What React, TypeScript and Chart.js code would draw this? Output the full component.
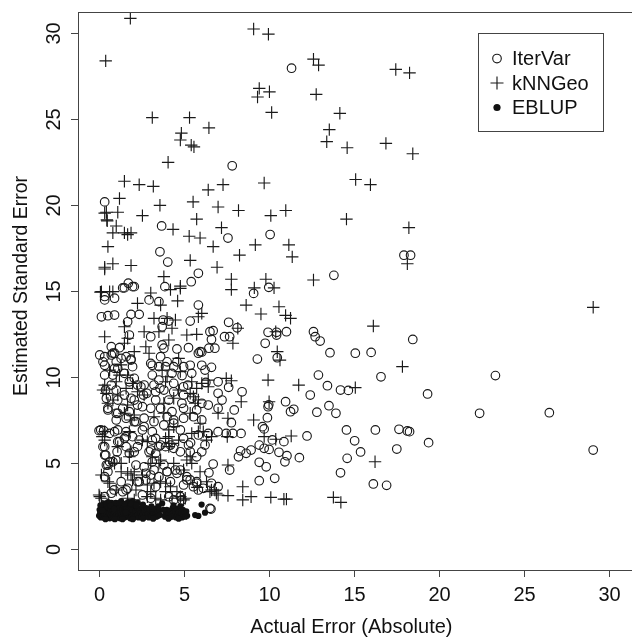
import React, { useEffect, useRef } from "react";
import { Chart, registerables } from "chart.js";

Chart.register(...registerables);

const seriesLabels = ["IterVar", "kNNGeo", "EBLUP"];
const xTickValues = [0, 5, 10, 15, 20, 25, 30];
const xTickLabels = ["0", "5", "10", "15", "20", "25", "30"];
const yTickValues = [0, 5, 10, 15, 20, 25, 30];
const yTickLabels = ["0", "5", "10", "15", "20", "25", "30"];
const xAxisTitle = "Actual Error (Absolute)";
const yAxisTitle = "Estimated Standard Error";

const iterVarPoints: number[][] = [
  [11.34, 27.97], [7.85, 22.3], [0.35, 20.2], [3.7, 18.8], [10.08, 18.3], [7.6, 18.1], [3.6, 17.3], [4.06, 16.7],
  [5.86, 16.05], [5.44, 15.56], [3.89, 15.27], [1.74, 15.47], [1.41, 15.2], [1.99, 15.27], [9.11, 14.88], [10.0, 15.23],
  [0.35, 14.7], [17.95, 17.1], [18.34, 17.1], [13.83, 15.93],
  [12.63, 12.65], [12.73, 12.36], [13.02, 12.11], [13.6, 11.43], [15.09, 11.4], [16.02, 11.45], [18.47, 12.2],
  [12.92, 10.13], [13.45, 9.51], [14.22, 9.26], [14.68, 9.24], [16.6, 10.03], [23.33, 10.1], [19.34, 9.03],
  [12.44, 8.97], [13.54, 8.35], [12.83, 7.97], [13.95, 7.91], [22.4, 7.91], [26.5, 7.94], [12.25, 6.59],
  [14.57, 6.94], [16.27, 6.94], [17.66, 6.98], [18.15, 6.88], [18.28, 6.84], [19.4, 6.2], [15.05, 6.31],
  [15.4, 5.66], [17.53, 5.83], [29.08, 5.77], [14.61, 5.29], [14.22, 4.45], [16.15, 3.8], [16.93, 3.72],
  [7.64, 13.2], [7.7, 12.36], [7.4, 12.36], [8.14, 12.88], [6.73, 12.71], [6.63, 12.2], [6.48, 11.69], [6.83, 11.69],
  [6.06, 11.47], [5.86, 14.2], [9.79, 11.98], [9.96, 12.62], [10.46, 12.62], [11.04, 12.65], [10.46, 12.46],
  [9.33, 11.06], [10.5, 11.14], [6.63, 10.58], [7.02, 9.74], [7.64, 9.42], [8.43, 9.16], [7.02, 9.07], [7.25, 8.68],
  [7.02, 8.2], [7.97, 8.1], [9.96, 8.29], [10.0, 8.4], [10.99, 8.58], [11.28, 8.0], [11.47, 8.14], [9.92, 7.65],
  [9.63, 7.13], [9.73, 7.0], [7.8, 7.36], [8.37, 6.74], [7.89, 6.74], [7.02, 6.84], [10.21, 6.36], [10.89, 6.26],
  [9.44, 6.06], [9.73, 5.87], [10.02, 5.81], [10.6, 5.64], [10.95, 5.09], [11.07, 5.44], [11.8, 5.33], [8.34, 5.73],
  [8.67, 5.58], [8.96, 5.77], [8.22, 5.38], [9.44, 5.06], [9.85, 4.8], [9.44, 3.99], [10.35, 4.13], [7.7, 4.61],
  [6.73, 4.96], [6.48, 4.45], [6.63, 3.84], [7.02, 3.64], [6.6, 2.34], [6.3, 9.7], [6.06, 8.49], [7.5, 6.74], [6.44, 6.74],
  [0.35, 14.5], [0.93, 14.6], [1.51, 15.2], [2.09, 15.27], [2.96, 14.5], [3.54, 14.4], [0.16, 13.52], [0.54, 13.58],
  [0.93, 13.62], [1.9, 13.66], [2.38, 13.66], [1.7, 13.23], [3.79, 13.33], [4.12, 13.27], [3.73, 12.94], [5.38, 13.27],
  [1.8, 12.46], [3.06, 12.36], [3.73, 11.88], [3.83, 11.69], [4.6, 11.65], [5.28, 11.72], [5.96, 11.49], [6.54, 12.65],
  [0.74, 11.78], [1.22, 11.72], [0.35, 11.2], [0.74, 11.3], [0.93, 11.4], [1.32, 11.1], [1.61, 11.2], [1.03, 10.9],
  [1.9, 11.06], [0.35, 10.7], [1.12, 10.52], [3.15, 10.7], [3.54, 10.62], [3.93, 10.62], [4.41, 10.62], [5.38, 10.7],
  [6.06, 10.7], [3.15, 10.13], [3.54, 9.84], [4.31, 10.23], [4.9, 10.1], [5.47, 10.23], [3.25, 9.55], [3.6, 9.36],
  [4.41, 9.65], [4.99, 9.45], [5.24, 9.55], [1.8, 9.74], [0.74, 9.55], [1.03, 9.26], [2.28, 9.55], [2.48, 9.45],
  [0.45, 8.78], [1.12, 8.68], [1.9, 8.78], [2.63, 8.97], [2.83, 9.07], [3.35, 9.16], [3.83, 9.26], [4.41, 9.16],
  [4.99, 8.97], [3.35, 8.68], [4.12, 8.68], [5.47, 8.78], [4.89, 8.49], [2.57, 8.29], [0.54, 8.1], [1.41, 8.2],
  [1.8, 8.0], [1.12, 7.91], [4.31, 8.0], [4.99, 8.2], [5.76, 8.1], [6.44, 8.39], [1.03, 7.52], [1.61, 7.62],
  [2.67, 7.62], [4.41, 7.52], [4.99, 7.62],
  [0.12, 6.94], [0.64, 6.74], [1.12, 6.94], [1.61, 6.84], [1.99, 6.55], [2.38, 6.35], [3.15, 6.84], [3.83, 7.23],
  [4.41, 7.33], [4.8, 6.94], [5.86, 6.65], [0.35, 5.97], [0.35, 5.48], [1.12, 6.26], [1.08, 5.67], [1.61, 5.97],
  [1.8, 5.58], [2.09, 5.67], [2.96, 5.67], [3.35, 5.58], [3.64, 6.06], [3.93, 5.97], [4.22, 6.06], [4.41, 5.87],
  [4.8, 5.67], [5.38, 5.67], [5.76, 5.38], [6.06, 5.67], [0.54, 4.9], [0.54, 4.51], [1.32, 3.93], [3.25, 4.61],
  [3.06, 4.32], [2.77, 4.03], [2.28, 3.93], [4.02, 4.51], [4.6, 4.42], [4.8, 4.61], [5.18, 4.22], [5.38, 4.03],
  [5.76, 3.93], [4.41, 2.87], [6.54, 2.38], [5.86, 3.45], [6.15, 3.55], [4.12, 3.06], [0.74, 3.26], [1.7, 3.55],
  [2.57, 3.16], [3.15, 5.09], [3.83, 4.9], [2.19, 4.9],
  [0.02, 6.9], [0.29, 6.9], [0.25, 5.97], [0.41, 5.48], [0.45, 4.9], [0.35, 4.22], [0.64, 5.09],
  [0.83, 11.4], [0.25, 10.9], [0.93, 10.52], [1.51, 10.23], [1.9, 11.0], [0.4, 9.26], [0.54, 8.2], [1.03, 7.91],
  [0.93, 6.84], [1.22, 6.26], [1.61, 6.55], [2.19, 7.42], [2.57, 6.94], [3.15, 6.35], [2.28, 5.97], [3.06, 5.77],
  [3.54, 5.97], [4.02, 4.51], [4.51, 4.61], [5.18, 4.03], [5.76, 3.84], [2.77, 4.42], [2.38, 3.93], [3.35, 3.64],
  [1.61, 3.45], [0.9, 3.45], [4.89, 2.87],
  [0.06, 11.3], [0.35, 10.13], [0.83, 10.13], [1.99, 10.62], [2.09, 9.94], [3.06, 10.81], [2.67, 9.55], [3.64, 11.2],
  [4.02, 10.9], [4.6, 10.9], [4.99, 10.62], [5.86, 11.4], [6.25, 10.42], [1.51, 8.97], [2.09, 8.68], [2.28, 8.39],
  [3.06, 8.2], [3.64, 8.2], [4.02, 7.71], [5.57, 7.71], [6.06, 7.52], [2.09, 7.42], [3.25, 7.42],
  [1.51, 6.45], [2.67, 7.13], [3.35, 6.45], [4.99, 6.45], [5.28, 6.06], [5.4, 6.2], [6.25, 6.06], [0.83, 5.09],
  [1.0, 5.2], [2.67, 4.8], [3.54, 4.22], [4.22, 3.93], [4.99, 3.74], [5.57, 3.64], [4.8, 3.06], [3.06, 2.97],
  [1.41, 3.35], [0.35, 3.06],
];

const knnGeoPoints: number[][] = [
  [1.86, 30.87], [0.41, 28.4], [3.15, 25.1], [5.34, 25.1], [6.48, 24.5], [4.86, 24.2], [4.8, 23.8], [5.44, 23.5],
  [5.6, 23.4], [4.08, 22.5], [9.11, 30.25], [9.98, 29.95], [9.44, 26.8], [9.34, 26.3], [10.04, 26.6], [10.17, 25.4],
  [12.63, 28.5], [12.93, 28.15], [12.79, 26.45], [1.51, 21.4], [2.38, 21.2], [3.21, 21.1], [1.22, 20.4], [0.35, 19.55],
  [0.48, 19.15], [1.12, 19.6], [2.57, 19.4], [3.6, 20.0], [5.55, 20.2], [5.76, 19.2], [6.44, 20.9], [7.31, 21.2],
  [7.02, 19.9], [8.22, 19.7], [9.73, 21.3], [10.12, 19.4], [11.0, 19.7], [1.03, 18.8], [0.83, 18.4], [1.51, 18.4],
  [1.9, 18.4], [0.54, 17.6], [4.37, 18.6], [5.32, 18.2], [5.96, 18.1], [7.22, 18.7], [6.73, 17.6], [8.28, 17.1],
  [9.21, 17.7], [11.18, 17.7], [11.38, 17.0], [5.38, 16.8], [0.35, 16.3], [0.83, 16.6], [1.9, 16.5], [6.96, 16.4],
  [3.83, 15.85], [7.8, 15.7], [9.83, 15.7], [12.63, 15.66], [0.1, 14.95], [0.83, 14.98], [4.22, 15.1], [4.8, 15.3],
  [7.8, 15.1], [9.15, 15.2], [10.31, 15.2], [3.06, 14.9],
  [17.47, 27.9], [18.28, 27.7], [14.18, 25.35], [13.56, 24.4], [13.41, 23.7], [14.61, 23.35], [16.89, 23.6],
  [18.47, 23.0], [15.11, 21.5], [15.98, 21.2], [14.57, 19.2], [18.24, 18.7], [18.15, 16.6],
  [29.08, 14.07], [16.15, 12.98], [17.86, 10.62], [15.09, 9.4], [16.25, 5.09], [13.8, 3.02], [14.24, 2.73],
  [8.67, 14.2], [9.54, 13.68], [10.6, 14.1], [11.28, 13.43], [10.99, 13.6], [8.18, 12.85], [7.89, 11.98],
  [10.5, 11.49], [10.66, 11.0], [9.96, 9.84], [11.76, 9.55], [7.5, 9.94], [7.8, 9.8], [8.38, 8.58], [10.02, 8.58],
  [7.02, 7.91], [7.6, 7.62], [9.11, 7.52], [7.56, 6.55], [6.63, 6.55], [9.73, 6.55], [11.32, 6.59], [10.41, 6.4],
  [7.6, 4.9], [8.47, 3.64], [7.02, 3.16], [7.6, 3.12], [8.47, 2.87], [8.96, 3.06], [10.12, 3.02], [10.89, 2.92],
  [11.04, 2.92], [6.83, 3.45], [5.8, 3.6], [6.06, 13.72], [10.41, 12.65], [6.06, 9.65], [6.44, 9.45], [5.96, 7.33],
  [5.86, 6.84], [6.34, 3.93], [6.63, 3.45], [6.92, 3.26], [1.7, 18.3], [0.45, 19.6], [0.5, 19.1], [0.35, 16.4],
  [0.16, 14.98], [0.64, 14.98], [4.8, 15.17], [2.28, 14.3], [4.64, 14.44], [3.25, 13.43], [4.02, 13.43], [4.51, 13.33],
  [5.86, 13.52], [1.51, 12.94], [2.67, 12.65], [3.54, 12.65], [0.35, 12.36], [1.7, 12.27], [5.76, 12.5], [2.77, 11.78],
  [2.96, 11.4], [1.51, 11.98], [4.7, 11.1], [1.32, 10.72], [0.64, 10.42], [1.7, 10.13], [3.73, 10.42], [4.8, 10.33],
  [0.35, 9.55], [1.99, 9.65], [1.61, 9.36], [4.02, 10.03], [5.76, 9.36], [6.44, 9.84], [0.45, 9.07], [2.28, 9.16],
  [1.12, 8.97], [4.7, 9.26], [5.38, 9.07], [5.57, 8.87], [0.54, 8.49], [1.7, 8.39], [2.67, 8.97], [3.83, 8.49],
  [5.67, 8.49], [1.51, 7.91], [3.83, 7.91], [5.38, 7.91],
  [0.35, 6.84], [0.35, 6.35], [1.8, 6.84], [2.57, 6.35], [4.12, 6.55], [5.47, 6.74], [6.15, 6.84], [1.9, 5.67],
  [4.12, 5.97], [5.38, 5.38], [1.32, 4.51], [1.7, 4.42], [2.09, 4.51], [3.25, 3.84], [3.64, 3.93], [3.93, 3.84],
  [4.22, 3.64], [0.54, 3.93], [0.16, 2.97], [1.7, 2.97], [2.09, 2.87], [2.86, 3.06], [4.6, 3.35], [4.99, 2.87],
  [6.54, 3.35],
  [0.25, 9.26], [0.83, 8.68], [0.21, 6.55], [0.16, 4.32], [0.06, 3.06], [0.64, 3.84], [1.99, 4.03], [2.19, 3.45],
  [2.86, 3.74], [3.35, 2.97], [4.31, 2.97], [4.8, 3.06], [5.09, 2.97], [5.18, 5.19], [5.47, 5.0], [4.7, 6.35],
  [3.93, 6.45], [4.12, 6.94], [1.12, 5.97], [1.8, 5.38], [1.9, 4.32], [2.57, 4.32], [3.54, 5.0], [5.96, 4.51],
  [6.34, 6.35], [1.9, 7.52], [5.86, 8.68], [4.41, 7.13], [4.31, 6.16], [3.15, 5.38], [2.86, 6.26],
  [1.22, 10.13], [1.03, 9.74], [3.64, 14.2], [4.31, 12.85], [5.18, 12.46], [4.12, 12.17], [2.09, 11.49], [3.93, 9.74],
  [5.47, 9.74], [4.41, 8.78], [2.09, 7.81], [3.25, 7.71],
  [0.93, 5.0], [1.32, 5.0], [3.06, 5.0], [3.64, 5.19], [4.41, 5.0], [4.99, 4.61], [3.93, 3.35], [3.06, 3.35],
  [1.03, 3.45], [0.02, 3.16], [3.64, 2.87],
];

const eblupPoints: number[][] = [
  [0.02, 1.95], [0.05, 2.3], [0.08, 2.1], [0.12, 1.85], [0.15, 2.5], [0.18, 2.0], [0.22, 2.2], [0.25, 1.9],
  [0.28, 2.4], [0.31, 2.05], [0.35, 1.8], [0.38, 2.3], [0.42, 2.6], [0.45, 2.0], [0.48, 1.85], [0.52, 2.2],
  [0.55, 2.45], [0.58, 1.95], [0.62, 2.1], [0.65, 1.8], [0.68, 2.35], [0.72, 2.0], [0.75, 2.7], [0.78, 1.9],
  [0.82, 2.25], [0.85, 2.05], [0.88, 1.8], [0.92, 2.5], [0.95, 2.15], [0.98, 1.9], [1.02, 2.3], [1.05, 2.0],
  [1.08, 1.85], [1.12, 2.6], [1.15, 2.2], [1.18, 1.95], [1.22, 2.4], [1.25, 1.8], [1.28, 2.1], [1.32, 2.8],
  [1.35, 2.0], [1.38, 2.3], [1.42, 1.9], [1.45, 2.55], [1.48, 2.1], [1.52, 1.85], [1.55, 2.3], [1.58, 2.0],
  [1.62, 2.45], [1.65, 1.9], [1.68, 2.2], [1.72, 2.75], [1.75, 1.95], [1.78, 2.35], [1.82, 2.05], [1.85, 1.8],
  [1.88, 2.5], [1.92, 2.1], [1.95, 1.9], [1.98, 2.3], [2.02, 2.0], [2.05, 2.6], [2.1, 1.85], [2.15, 2.2],
  [2.2, 1.95], [2.25, 2.4], [2.3, 2.0], [2.35, 1.85], [2.4, 2.3], [2.45, 2.1], [2.5, 1.9], [2.55, 2.5],
  [2.6, 2.05], [2.65, 1.85], [2.7, 2.2], [2.75, 2.0], [2.8, 2.4], [2.85, 1.9], [2.9, 2.1], [2.95, 1.85],
  [3.0, 2.3], [3.05, 2.0], [3.1, 1.9], [3.15, 2.2], [3.2, 2.05], [3.25, 1.85], [3.3, 2.35], [3.35, 2.0],
  [3.4, 1.9], [3.45, 2.15], [3.5, 1.95], [3.55, 2.3], [3.6, 2.0], [3.73, 2.67], [3.9, 1.9], [3.95, 2.1],
  [4.0, 2.3], [4.05, 1.95], [4.1, 2.05], [4.15, 1.85], [4.2, 2.25], [4.25, 2.0], [4.3, 1.9], [4.35, 2.4],
  [4.4, 2.1], [4.45, 1.95], [4.5, 2.2], [4.55, 1.85], [4.6, 2.35], [4.65, 2.0], [4.7, 2.15], [4.75, 1.9],
  [4.8, 2.5], [4.85, 2.05], [4.9, 1.85], [4.95, 2.3], [5.0, 2.0], [5.05, 2.15], [5.1, 1.9], [5.15, 2.2],
  [5.67, 1.99], [5.86, 1.94], [6.05, 2.6], [6.25, 2.13], [0.55, 2.75], [1.0, 2.7], [2.0, 2.8], [2.3, 2.7],
  [1.5, 2.65], [0.3, 2.65], [0.1, 2.55], [0.7, 2.55], [1.2, 2.7], [1.9, 2.65], [2.6, 2.6], [3.1, 2.5],
  [0.4, 1.75], [0.95, 1.75], [1.4, 1.75], [2.0, 1.75], [2.6, 1.78], [3.2, 1.78], [4.1, 1.78], [4.7, 1.78],
  [3.8, 2.3], [5.2, 1.95], [2.2, 2.55], [1.6, 2.15], [0.9, 2.35], [0.2, 2.25], [3.5, 2.5], [4.4, 2.55],
];

const toXY = (pts: number[][]) => pts.map(([x, y]) => ({ x, y }));

const FONT = "'Liberation Sans', Arial, Helvetica, sans-serif";
const INK = "#1a1a1a";

const rAxesPlugin = {
  id: "rAxes",
  afterDraw(chart: any) {
    const { ctx, chartArea } = chart;
    const { left, top, right, bottom } = chartArea;
    const xs = chart.scales.x;
    const ys = chart.scales.y;
    ctx.save();
    ctx.strokeStyle = "#444";
    ctx.lineWidth = 1;
    ctx.strokeRect(left + 0.5, top + 0.5, right - left + 10, bottom - top);
    ctx.fillStyle = "#111";
    ctx.font = `20px ${FONT}`;
    ctx.textAlign = "center";
    ctx.textBaseline = "alphabetic";
    xTickValues.forEach((v, i) => {
      const px = Math.round(xs.getPixelForValue(v)) + 0.5;
      ctx.beginPath();
      ctx.moveTo(px, bottom);
      ctx.lineTo(px, bottom + 7);
      ctx.stroke();
      ctx.fillText(xTickLabels[i], px, 601);
    });
    yTickValues.forEach((v, i) => {
      const py = Math.round(ys.getPixelForValue(v)) + 0.5;
      ctx.beginPath();
      ctx.moveTo(left - 7, py);
      ctx.lineTo(left, py);
      ctx.stroke();
      ctx.save();
      ctx.translate(60, py);
      ctx.rotate(-Math.PI / 2);
      ctx.fillText(yTickLabels[i], 0, 0);
      ctx.restore();
    });
    ctx.fillText(xAxisTitle, (left + right) / 2, 633);
    ctx.save();
    ctx.font = `19.5px ${FONT}`;
    ctx.translate(27, 286);
    ctx.rotate(-Math.PI / 2);
    ctx.fillText(yAxisTitle, 0, 0);
    ctx.restore();

    // legend
    ctx.strokeStyle = "#444";
    ctx.strokeRect(478.5, 33.5, 125, 98);
    const symX = 497;
    const rows = [58.5, 83, 107.5];
    const bases = [65, 89.5, 114];
    ctx.strokeStyle = INK;
    ctx.lineWidth = 1.15;
    ctx.beginPath();
    ctx.arc(symX, rows[0], 4.3, 0, Math.PI * 2);
    ctx.stroke();
    ctx.beginPath();
    ctx.moveTo(symX - 6.5, rows[1]);
    ctx.lineTo(symX + 6.5, rows[1]);
    ctx.moveTo(symX, rows[1] - 6.5);
    ctx.lineTo(symX, rows[1] + 6.5);
    ctx.stroke();
    ctx.fillStyle = "#111";
    ctx.beginPath();
    ctx.arc(symX, rows[2], 3.6, 0, Math.PI * 2);
    ctx.fill();
    ctx.textAlign = "left";
    seriesLabels.forEach((lab, i) => {
      ctx.fillText(lab, 512, bases[i]);
    });
    ctx.restore();
  },
};

export default function App() {
  const canvasRef = useRef<HTMLCanvasElement | null>(null);

  useEffect(() => {
    const canvas = canvasRef.current;
    if (!canvas) return;
    const chart = new Chart(canvas, {
      type: "scatter",
      data: {
        datasets: [
          {
            label: seriesLabels[0],
            data: toXY(iterVarPoints),
            pointStyle: "circle",
            pointRadius: 4.3,
            borderWidth: 1.15,
            borderColor: INK,
            backgroundColor: "rgba(0,0,0,0)",
            order: 2,
          },
          {
            label: seriesLabels[1],
            data: toXY(knnGeoPoints),
            pointStyle: "cross",
            pointRadius: 6.2,
            borderWidth: 1.15,
            borderColor: INK,
            backgroundColor: INK,
            order: 1,
          },
          {
            label: seriesLabels[2],
            data: toXY(eblupPoints),
            pointStyle: "circle",
            pointRadius: 3.1,
            borderWidth: 0,
            borderColor: "#111",
            backgroundColor: "#111",
            order: 0,
          },
        ],
      },
      options: {
        animation: false,
        responsive: false,
        events: [],
        layout: { padding: { top: 12, left: 0, right: 0, bottom: 0 } },
        plugins: { legend: { display: false }, tooltip: { enabled: false }, title: { display: false } },
        scales: {
          x: {
            type: "linear",
            min: -1.219,
            max: 30.93,
            ticks: { display: false },
            grid: { display: false },
            border: { display: false },
            afterFit: (s: any) => {
              s.height = 67;
            },
          },
          y: {
            type: "linear",
            min: -1.203,
            max: 31.24,
            ticks: { display: false },
            grid: { display: false },
            border: { display: false },
            afterFit: (s: any) => {
              s.width = 78;
            },
          },
        },
      },
      plugins: [rAxesPlugin],
    });
    return () => chart.destroy();
  }, []);

  return (
    <div style={{ position: "absolute", left: 0, top: 0, width: 632, height: 637, background: "#fff" }}>
      <canvas ref={canvasRef} width={632} height={637} style={{ display: "block" }} />
    </div>
  );
}
